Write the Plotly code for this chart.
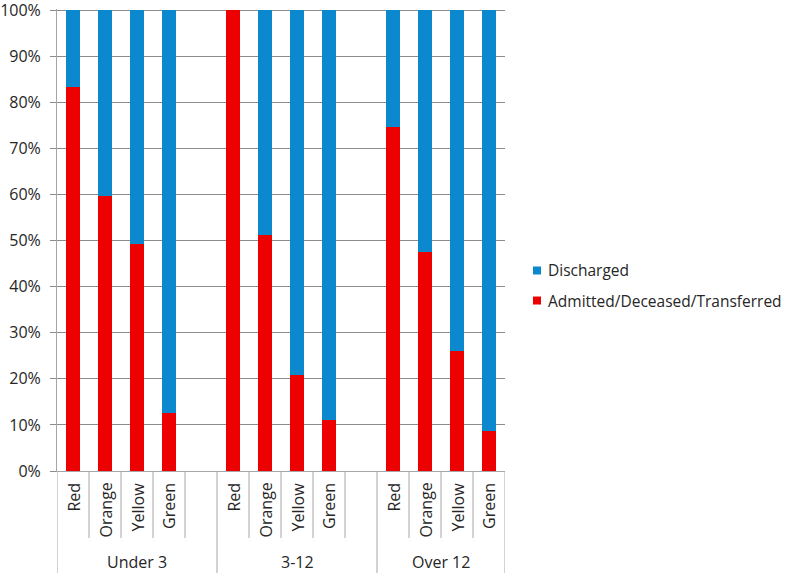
import plotly.graph_objects as go

groups = ["Under 3", "3-12", "Over 12"]
levels = ["Red", "Orange", "Yellow", "Green"]
admitted = {
    "Under 3": [83.3, 59.7, 49.2, 12.6],
    "3-12": [100.0, 51.2, 20.8, 11.1],
    "Over 12": [74.6, 47.5, 26.0, 8.7],
}
series_names = ["Admitted/Deceased/Transferred", "Discharged"]
series_colors = ["#EE0000", "#0C88CF"]
y_ticks = list(range(0, 101, 10))
y_ticktext = [f"{v}%" for v in y_ticks]

FONT = "Open Sans"
FS = 16
TXT = "#262626"

slots = []
for gi, g in enumerate(groups):
    for lv in levels:
        slots.append(f"{g}|{lv}")
    if gi < len(groups) - 1:
        slots.append(f"gap{gi}")

xcats = [f"{g}|{lv}" for g in groups for lv in levels]
adm_vals = [v for g in groups for v in admitted[g]]
dis_vals = [round(100 - v, 1) for v in adm_vals]

fig = go.Figure()
fig.add_trace(go.Bar(x=xcats, y=adm_vals, name=series_names[0],
                     marker=dict(color=series_colors[0], line=dict(width=0))))
fig.add_trace(go.Bar(x=xcats, y=dis_vals, name=series_names[1],
                     marker=dict(color=series_colors[1], line=dict(width=0))))

shapes = []
annotations = []
n = len(slots)
group_bounds = {-0.5, n - 0.5}
idx = 0
for gi, g in enumerate(groups):
    size = len(levels) + (1 if gi < len(groups) - 1 else 0)
    start = idx
    end = idx + size
    group_bounds.add(end - 0.5)
    annotations.append(dict(x=(start + end - 1) / 2, y=-0.198, xref="x", yref="paper",
                            text=g, showarrow=False, yanchor="middle",
                            font=dict(family=FONT, size=FS, color=TXT)))
    idx = end
for b in range(n + 1):
    pos = b - 0.5
    full = pos in group_bounds
    shapes.append(dict(type="line", xref="x", yref="paper", x0=pos, x1=pos,
                       y0=0, y1=-0.23 if full else -0.145,
                       line=dict(color="#A6A6A6", width=1)))
for s in slots:
    if s.startswith("gap"):
        continue
    lv = s.split("|")[1]
    annotations.append(dict(x=s, y=0, xref="x", yref="paper", text=lv,
                            showarrow=False, textangle=-90, yanchor="top",
                            yshift=-11, borderpad=0,
                            font=dict(family=FONT, size=FS, color=TXT)))

# legend (drawn manually for exact placement), Discharged on top
H = 462
leg_items = [(series_names[1], series_colors[1], 0.434), (series_names[0], series_colors[0], 0.369)]
for name, col, yp in leg_items:
    shapes.append(dict(type="rect", xref="paper", yref="paper",
                       x0=(533 - 57) / 448, x1=(541 - 57) / 448,
                       y0=yp - 4 / H, y1=yp + 4 / H,
                       fillcolor=col, line=dict(width=0)))
    annotations.append(dict(x=(546 - 57) / 448, y=yp, xref="paper", yref="paper",
                            text=name, showarrow=False, xanchor="left", yanchor="middle",
                            font=dict(family=FONT, size=15.5, color=TXT)))

fig.update_layout(
    barmode="stack",
    bargap=0.58,
    width=787, height=573,
    margin=dict(l=57, r=282, t=9, b=102, autoexpand=False),
    plot_bgcolor="white", paper_bgcolor="white",
    font=dict(family=FONT, size=FS, color=TXT),
    showlegend=False,
    xaxis=dict(type="category", categoryorder="array", categoryarray=slots,
               range=[-0.5, n - 0.5], showticklabels=False, showgrid=False,
               showline=True, linecolor="#A6A6A6", linewidth=1, ticks="",
               automargin=False),
    yaxis=dict(range=[0, 100.25], tickmode="array", tickvals=y_ticks, ticktext=y_ticktext,
               showgrid=True, gridcolor="#8C8C8C", gridwidth=1,
               showline=True, linecolor="#A6A6A6", linewidth=1,
               ticks="outside", ticklen=6, tickcolor="#8C8C8C",
               ticklabelstandoff=6, ticklabeloverflow="allow", automargin=False,
               zeroline=False, tickfont=dict(family=FONT, size=FS, color=TXT)),
    shapes=shapes,
    annotations=annotations,
)

fig.write_html("out.html", config={"displayModeBar": False},
               post_script="document.body.style.margin='0';document.body.style.padding='0';")
